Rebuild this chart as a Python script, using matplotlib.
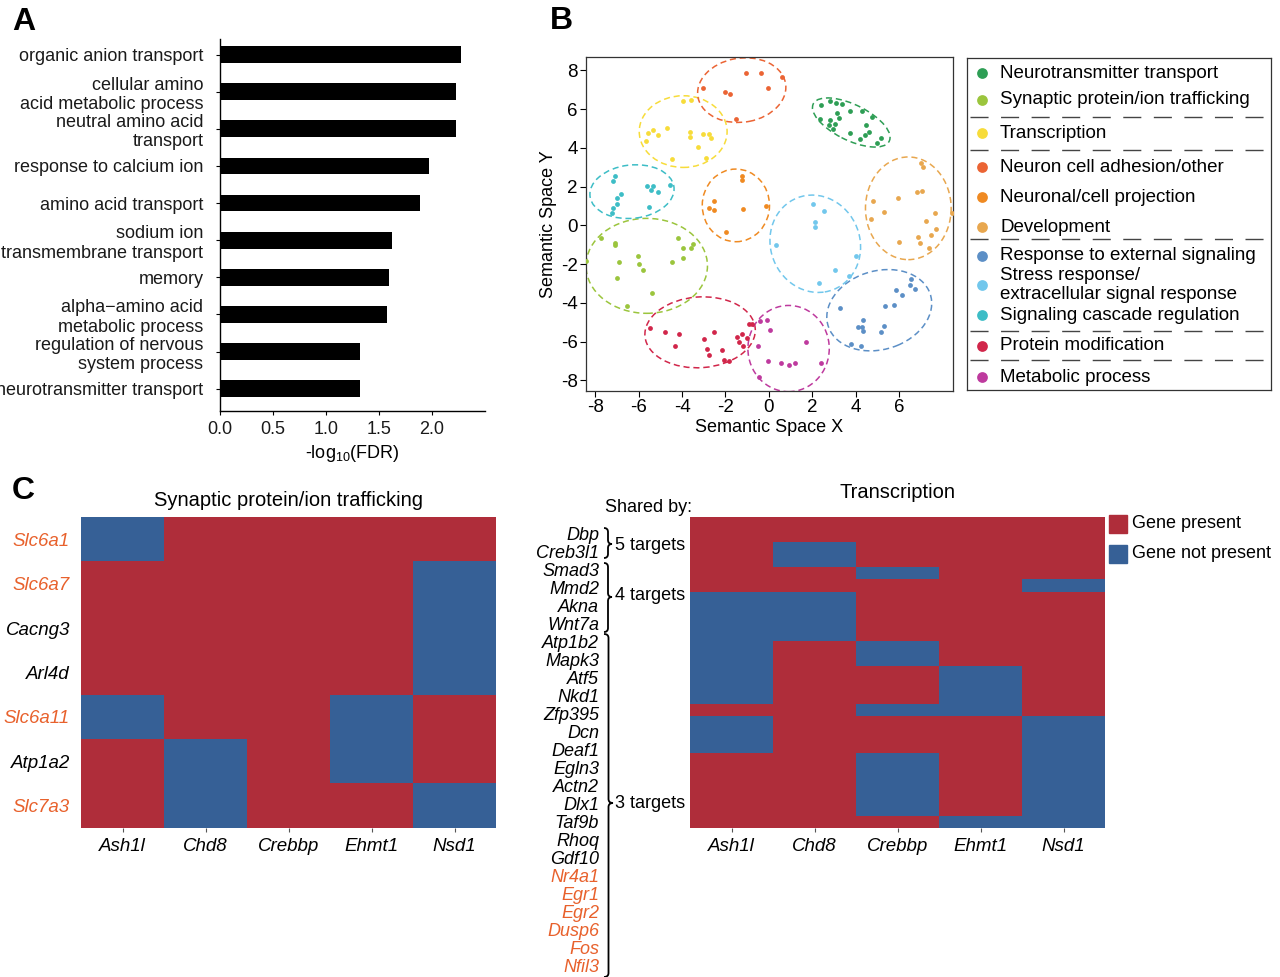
import matplotlib
matplotlib.use('Agg')
import matplotlib.pyplot as plt
import numpy as np
from matplotlib.colors import ListedColormap
from matplotlib.patches import Ellipse, PathPatch
from matplotlib.path import Path

plt.rcParams['font.family'] = ['Liberation Sans', 'DejaVu Sans']
plt.rcParams['mathtext.fontset'] = 'custom'
plt.rcParams['mathtext.rm'] = 'Liberation Sans'
plt.rcParams['axes.unicode_minus'] = False

W, H = 1280, 977

# ------------------------------------------------------------
# panel A: GO enrichment
# ------------------------------------------------------------
GO_TERMS = ['organic anion transport', 'cellular amino\nacid metabolic process',
            'neutral amino acid\ntransport', 'response to calcium ion',
            'amino acid transport', 'sodium ion\ntransmembrane transport',
            'memory', 'alpha\u2212amino acid\nmetabolic process',
            'regulation of nervous\nsystem process', 'neurotransmitter transport']
GO_LOG_FDR = [2.27, 2.23, 2.23, 1.97, 1.89, 1.62, 1.59, 1.58, 1.32, 1.32]

# ------------------------------------------------------------
# panel B: semantic space clusters
# ------------------------------------------------------------
CLUSTER_NAMES = ['Neurotransmitter transport', 'Synaptic protein/ion trafficking',
                 'Transcription', 'Neuron cell adhesion/other',
                 'Neuronal/cell projection', 'Development',
                 'Response to external signaling',
                 'Stress response/\nextracellular signal response',
                 'Signaling cascade regulation', 'Protein modification',
                 'Metabolic process']
CLUSTER_COLORS = ['#2E9E55', '#9BC53D', '#F7DC3A', '#EB6434', '#EF8A22',
                  '#E8A74F', '#5C8FC6', '#72C7EC', '#3DBDC6', '#D1264A',
                  '#BE3A9E']

nt_x = [2.42, 2.80, 3.11, 3.38, 2.37, 2.80, 3.14, 3.23, 3.72, 4.31, 4.77,
        3.03, 2.77, 2.98, 3.72, 4.22, 4.42, 4.62, 4.46, 4.98, 5.18]
nt_y = [6.22, 6.40, 6.34, 6.28, 5.50, 5.45, 5.79, 5.53, 5.88, 5.91, 5.57,
        5.24, 5.19, 4.97, 4.76, 4.45, 4.67, 4.84, 5.19, 4.24, 4.50]
syn_x = [-7.74, -7.08, -7.08, -6.92, -6.05, -6.00, -5.78, -7.02, -5.40,
         -6.55, -4.20, -3.94, -3.58, -3.51, -3.97, -4.46, -8.43]
syn_y = [-0.64, -0.90, -1.02, -1.88, -1.57, -2.02, -2.31, -2.72, -3.48,
         -4.17, -0.67, -1.19, -1.16, -0.97, -1.71, -1.88, -1.84]
tr_x = [-3.94, -3.58, -5.58, -5.32, -5.12, -4.71, -3.63, -3.63, -3.05,
        -2.77, -2.66, -3.28, -5.66, -4.46, -2.89]
tr_y = [6.43, 6.48, 4.76, 4.93, 4.66, 5.00, 4.84, 4.55, 4.69, 4.69, 4.50,
        4.07, 4.33, 3.41, 3.50]
adh_x = [-3.02, -1.05, -0.35, 0.62, -0.06, -2.03, -1.80, -1.51]
adh_y = [7.09, 7.86, 7.86, 7.66, 7.09, 6.88, 6.79, 5.50]
proj_x = [-1.26, -1.26, -2.55, -2.77, -2.52, -1.20, -0.15, -1.97]
proj_y = [2.57, 2.34, 1.28, 0.91, 0.79, 0.83, 1.00, -0.34]
dev_x = [7.00, 7.11, 5.95, 6.85, 7.06, 4.80, 5.29, 4.72, 7.65, 7.26, 7.69,
         7.48, 6.88, 6.02, 6.95, 7.38, 8.45]
dev_y = [3.21, 3.00, 1.40, 1.74, 1.78, 1.28, 0.67, 0.31, 0.62, 0.22, -0.21,
         -0.52, -0.59, -0.88, -0.93, -1.16, 0.62]
ext_x = [6.57, 6.49, 6.72, 5.85, 6.15, 5.77, 5.34, 5.32, 5.18, 4.34, 4.11,
         4.31, 4.34, 3.26, 3.77, 4.26]
ext_y = [-2.76, -3.09, -3.26, -3.34, -3.57, -4.09, -4.17, -5.21, -5.50,
         -4.86, -5.24, -5.24, -5.47, -4.29, -6.14, -6.22]
str_x = [2.03, 2.11, 2.15, 2.54, 0.34, 4.00, 3.06, 3.69, 2.31]
str_y = [1.10, 0.17, -0.07, 0.74, -1.03, -1.59, -2.31, -2.62, -2.95]
sig_x = [-7.08, -7.20, -6.82, -7.02, -7.02, -7.17, -7.25, -5.63, -5.43,
         -5.35, -5.12, -4.55, -5.54]
sig_y = [2.55, 2.29, 1.62, 1.40, 1.10, 0.88, 0.62, 2.05, 1.83, 2.05, 1.72,
         2.07, 0.97]
prot_x = [-5.48, -4.77, -4.12, -4.31, -2.97, -2.55, -2.86, -2.77, -2.15,
          -2.08, -1.85, -1.48, -1.26, -1.02, -1.38, -1.17, -0.92, -0.78]
prot_y = [-5.29, -5.52, -5.62, -6.22, -5.88, -5.50, -6.36, -6.67, -6.45,
          -6.93, -7.00, -5.76, -5.59, -5.79, -6.02, -6.24, -5.07, -5.07]
met_x = [-0.43, -0.08, 0.03, -0.51, -0.05, 0.54, 0.95, 1.22, 1.72, 2.42, -0.46]
met_y = [-4.93, -4.86, -5.41, -6.24, -7.00, -7.09, -7.19, -7.09, -6.03,
         -7.10, -7.83]

CLUSTER_X = [nt_x, syn_x, tr_x, adh_x, proj_x, dev_x, ext_x, str_x, sig_x,
             prot_x, met_x]
CLUSTER_Y = [nt_y, syn_y, tr_y, adh_y, proj_y, dev_y, ext_y, str_y, sig_y,
             prot_y, met_y]

# ellipse outline per cluster (centre, width, height, angle)
ELL_CX = [3.80, -5.63, -3.95, -1.25, -1.52, 6.43, 5.09, 2.14, -6.31, -3.17, 0.91]
ELL_CY = [5.31, -2.09, 4.84, 6.98, 1.03, 0.88, -4.38, -0.95, 1.74, -5.52, -6.36]
ELL_W = [4.0, 5.6, 4.05, 4.1, 3.1, 3.95, 5.0, 4.15, 3.9, 5.1, 3.75]
ELL_H = [1.8, 4.9, 3.7, 3.3, 3.75, 5.3, 4.0, 5.05, 2.75, 3.65, 4.45]
ELL_ANG = [-30, 0, 0, 12, 0, 0, 25, 10, 8, 5, 0]

# ------------------------------------------------------------
# panel C: heatmaps (1 = gene present, 0 = not present)
# ------------------------------------------------------------
TARGETS = ['Ash1l', 'Chd8', 'Crebbp', 'Ehmt1', 'Nsd1']
SYN_GENES = ['Slc6a1', 'Slc6a7', 'Cacng3', 'Arl4d', 'Slc6a11', 'Atp1a2', 'Slc7a3']
SYN_MAT = np.array([
    [0, 1, 1, 1, 1],
    [1, 1, 1, 1, 0],
    [1, 1, 1, 1, 0],
    [1, 1, 1, 1, 0],
    [0, 1, 1, 0, 1],
    [1, 0, 1, 0, 1],
    [1, 0, 1, 1, 0],
])
TR_GENES = ['Dbp', 'Creb3l1', 'Smad3', 'Mmd2', 'Akna', 'Wnt7a', 'Atp1b2',
            'Mapk3', 'Atf5', 'Nkd1', 'Zfp395', 'Dcn', 'Deaf1', 'Egln3',
            'Actn2', 'Dlx1', 'Taf9b', 'Rhoq', 'Gdf10', 'Nr4a1', 'Egr1',
            'Egr2', 'Dusp6', 'Fos', 'Nfil3']
TR_MAT = np.array([
    [1, 1, 1, 1, 1], [1, 1, 1, 1, 1],
    [1, 0, 1, 1, 1], [1, 0, 1, 1, 1], [1, 1, 0, 1, 1], [1, 1, 1, 1, 0],
    [0, 0, 1, 1, 1], [0, 0, 1, 1, 1], [0, 0, 1, 1, 1], [0, 0, 1, 1, 1],
    [0, 1, 0, 1, 1], [0, 1, 0, 1, 1],
    [0, 1, 1, 0, 1], [0, 1, 1, 0, 1], [0, 1, 1, 0, 1],
    [1, 1, 0, 0, 1],
    [0, 1, 1, 1, 0], [0, 1, 1, 1, 0], [0, 1, 1, 1, 0],
    [1, 1, 0, 1, 0], [1, 1, 0, 1, 0], [1, 1, 0, 1, 0], [1, 1, 0, 1, 0],
    [1, 1, 0, 1, 0],
    [1, 1, 1, 0, 0],
])
ORANGE_GENES = {'Slc6a1', 'Slc6a7', 'Slc6a11', 'Slc7a3',
                'Nr4a1', 'Egr1', 'Egr2', 'Dusp6', 'Fos', 'Nfil3'}
SHARED_GROUPS = ['5 targets', '4 targets', '3 targets']

RED, BLUE = '#AF2D3A', '#366096'
ORANGE = '#E8612C'


def fx(x):
    return x / W


def fy(y):
    return 1 - y / H


def box(l, t, r, b):
    return [fx(l), fy(b), (r - l) / W, (b - t) / H]


def brace(fig, x0, y0, y1, ym, w, lw=1.3):
    """Right-facing curly brace in pixel coords (y down)."""
    r = 4
    xm = x0 + w / 2
    pts = [(x0, y0), (xm, y0), (xm, y0 + r), (xm, ym - r), (xm, ym), (x0 + w, ym),
           (xm, ym), (xm, ym + r), (xm, y1 - r), (xm, y1), (x0, y1)]
    codes = [Path.MOVETO, Path.CURVE3, Path.CURVE3, Path.LINETO, Path.CURVE3,
             Path.CURVE3, Path.CURVE3, Path.CURVE3, Path.LINETO, Path.CURVE3,
             Path.CURVE3]
    pts = [(fx(a), fy(b)) for a, b in pts]
    fig.patches.append(PathPatch(Path(pts, codes), transform=fig.transFigure,
                                 fill=False, lw=lw, color='black'))


fig = plt.figure(figsize=(W / 100, H / 100), dpi=100)

# panel letters
for letter, x, y in [('A', 12, 30), ('B', 550, 29), ('C', 12, 499)]:
    fig.text(fx(x), fy(y), letter, fontsize=23, fontweight='bold', va='baseline')

# ------------------------------------------------------------
# A
# ------------------------------------------------------------
axA = fig.add_axes(box(220, 39, 485, 411))
ypos = np.arange(len(GO_TERMS))
axA.barh(ypos, GO_LOG_FDR, height=0.45, color='black')
axA.set_ylim(9.6, -0.42)
axA.set_xlim(0, 2.5)
axA.set_yticks(ypos)
axA.set_yticklabels(GO_TERMS, fontsize=13, color='#1a1a1a')
axA.set_xticks([0, 0.5, 1.0, 1.5, 2.0])
axA.set_xticklabels(['0.0', '0.5', '1.0', '1.5', '2.0'], fontsize=13, color='#1a1a1a')
axA.tick_params(axis='y', length=3, width=0.8, pad=9)
axA.tick_params(axis='x', length=3, width=0.8, pad=4)
for s in ['top', 'right']:
    axA.spines[s].set_visible(False)
for s in ['left', 'bottom']:
    axA.spines[s].set_linewidth(1.0)
axA.set_xlabel('-log$_{10}$(FDR)', fontsize=13, labelpad=4)

# ------------------------------------------------------------
# B
# ------------------------------------------------------------
axB = fig.add_axes(box(586, 57, 953, 391))
for i in range(len(CLUSTER_NAMES)):
    axB.scatter(CLUSTER_X[i], CLUSTER_Y[i], s=12, color=CLUSTER_COLORS[i],
                linewidths=0, zorder=3, clip_on=True)
    axB.add_patch(Ellipse((ELL_CX[i], ELL_CY[i]), ELL_W[i], ELL_H[i],
                          angle=ELL_ANG[i], fill=False, lw=1.1,
                          ls=(0, (4, 2.5)), color=CLUSTER_COLORS[i]))
axB.set_xlim(-8.43, 8.49)
axB.set_ylim(-8.55, 8.69)
axB.set_xticks(np.arange(-8, 7, 2))
axB.set_yticks(np.arange(-8, 9, 2))
axB.tick_params(length=4, width=0.8, pad=2, labelsize=13.5)
for s in axB.spines.values():
    s.set_linewidth(0.9)
    s.set_color('#333333')
axB.set_xlabel('Semantic Space X', fontsize=13, labelpad=2)
axB.set_ylabel('Semantic Space Y', fontsize=13, labelpad=3)

# legend box for B
axL = fig.add_axes(box(967, 58, 1271, 390))
axL.set_xlim(0, 304)
axL.set_ylim(332, 0)
axL.set_xticks([])
axL.set_yticks([])
for s in axL.spines.values():
    s.set_linewidth(0.9)
    s.set_color('#333333')
LEG_Y = [15, 42, 75, 109, 139, 169, 198, 227, 257, 288, 319]
SEP_Y = [59, 92, 181, 273, 302]
for name, col, yy in zip(CLUSTER_NAMES, CLUSTER_COLORS, LEG_Y):
    axL.scatter([15], [yy], s=60, color=col, linewidths=0)
    axL.text(33, yy, name, fontsize=13.5, va='center', ha='left', linespacing=1.15)
for yy in SEP_Y:
    axL.plot([3, 302], [yy, yy], color='#444444', lw=1.0, dashes=(13, 9))

# ------------------------------------------------------------
# C
# ------------------------------------------------------------
cmap = ListedColormap([BLUE, RED])

axC1 = fig.add_axes(box(81, 517, 496, 828))
axC1.imshow(SYN_MAT, cmap=cmap, vmin=0, vmax=1, aspect='auto',
            interpolation='nearest')
axC1.set_xticks(range(len(TARGETS)))
axC1.set_xticklabels(TARGETS, fontsize=13.5, style='italic')
axC1.set_yticks(range(len(SYN_GENES)))
axC1.set_yticklabels(SYN_GENES, fontsize=13.5, style='italic')
for lab in axC1.get_yticklabels():
    lab.set_color(ORANGE if lab.get_text() in ORANGE_GENES else 'black')
axC1.tick_params(axis='y', length=0, pad=8)
axC1.tick_params(axis='x', length=3, width=0.8, pad=4, color='#555555')
for s in axC1.spines.values():
    s.set_visible(False)
fig.text(fx(288), fy(500), 'Synaptic protein/ion trafficking', fontsize=14.5,
         ha='center', va='center')

axC2 = fig.add_axes(box(690, 517, 1105, 828))
axC2.imshow(TR_MAT, cmap=cmap, vmin=0, vmax=1, aspect='auto',
            interpolation='nearest')
axC2.set_xticks(range(len(TARGETS)))
axC2.set_xticklabels(TARGETS, fontsize=13.5, style='italic')
axC2.set_yticks([])
axC2.tick_params(axis='x', length=3, width=0.8, pad=4, color='#555555')
for s in axC2.spines.values():
    s.set_visible(False)
fig.text(fx(897), fy(493), 'Transcription', fontsize=14.5, ha='center', va='center')
fig.text(fx(605), fy(507), 'Shared by:', fontsize=13, ha='left', va='center')

# gene labels, spread independently of the heatmap rows
for i, g in enumerate(TR_GENES):
    fig.text(fx(599), fy(536 + 18.0 * i), g, fontsize=13, style='italic',
             ha='right', va='center',
             color=ORANGE if g in ORANGE_GENES else 'black')

brace(fig, 604, 528, 558, 544, 8)
brace(fig, 604, 563, 632, 597, 8)
brace(fig, 604, 634, 977, 803, 9)
for txt, yy in zip(SHARED_GROUPS, [545, 596, 803]):
    fig.text(fx(615), fy(yy), txt, fontsize=13, ha='left', va='center')

# legend for heatmap colours
for col, txt, yy in [(RED, 'Gene present', 524), (BLUE, 'Gene not present', 554)]:
    fig.patches.append(plt.Rectangle((fx(1109), fy(yy + 9)), 18 / W, 18 / H,
                                     transform=fig.transFigure, color=col))
    fig.text(fx(1132), fy(yy), txt, fontsize=13, ha='left', va='center')

fig.savefig('out.png', dpi=100)
